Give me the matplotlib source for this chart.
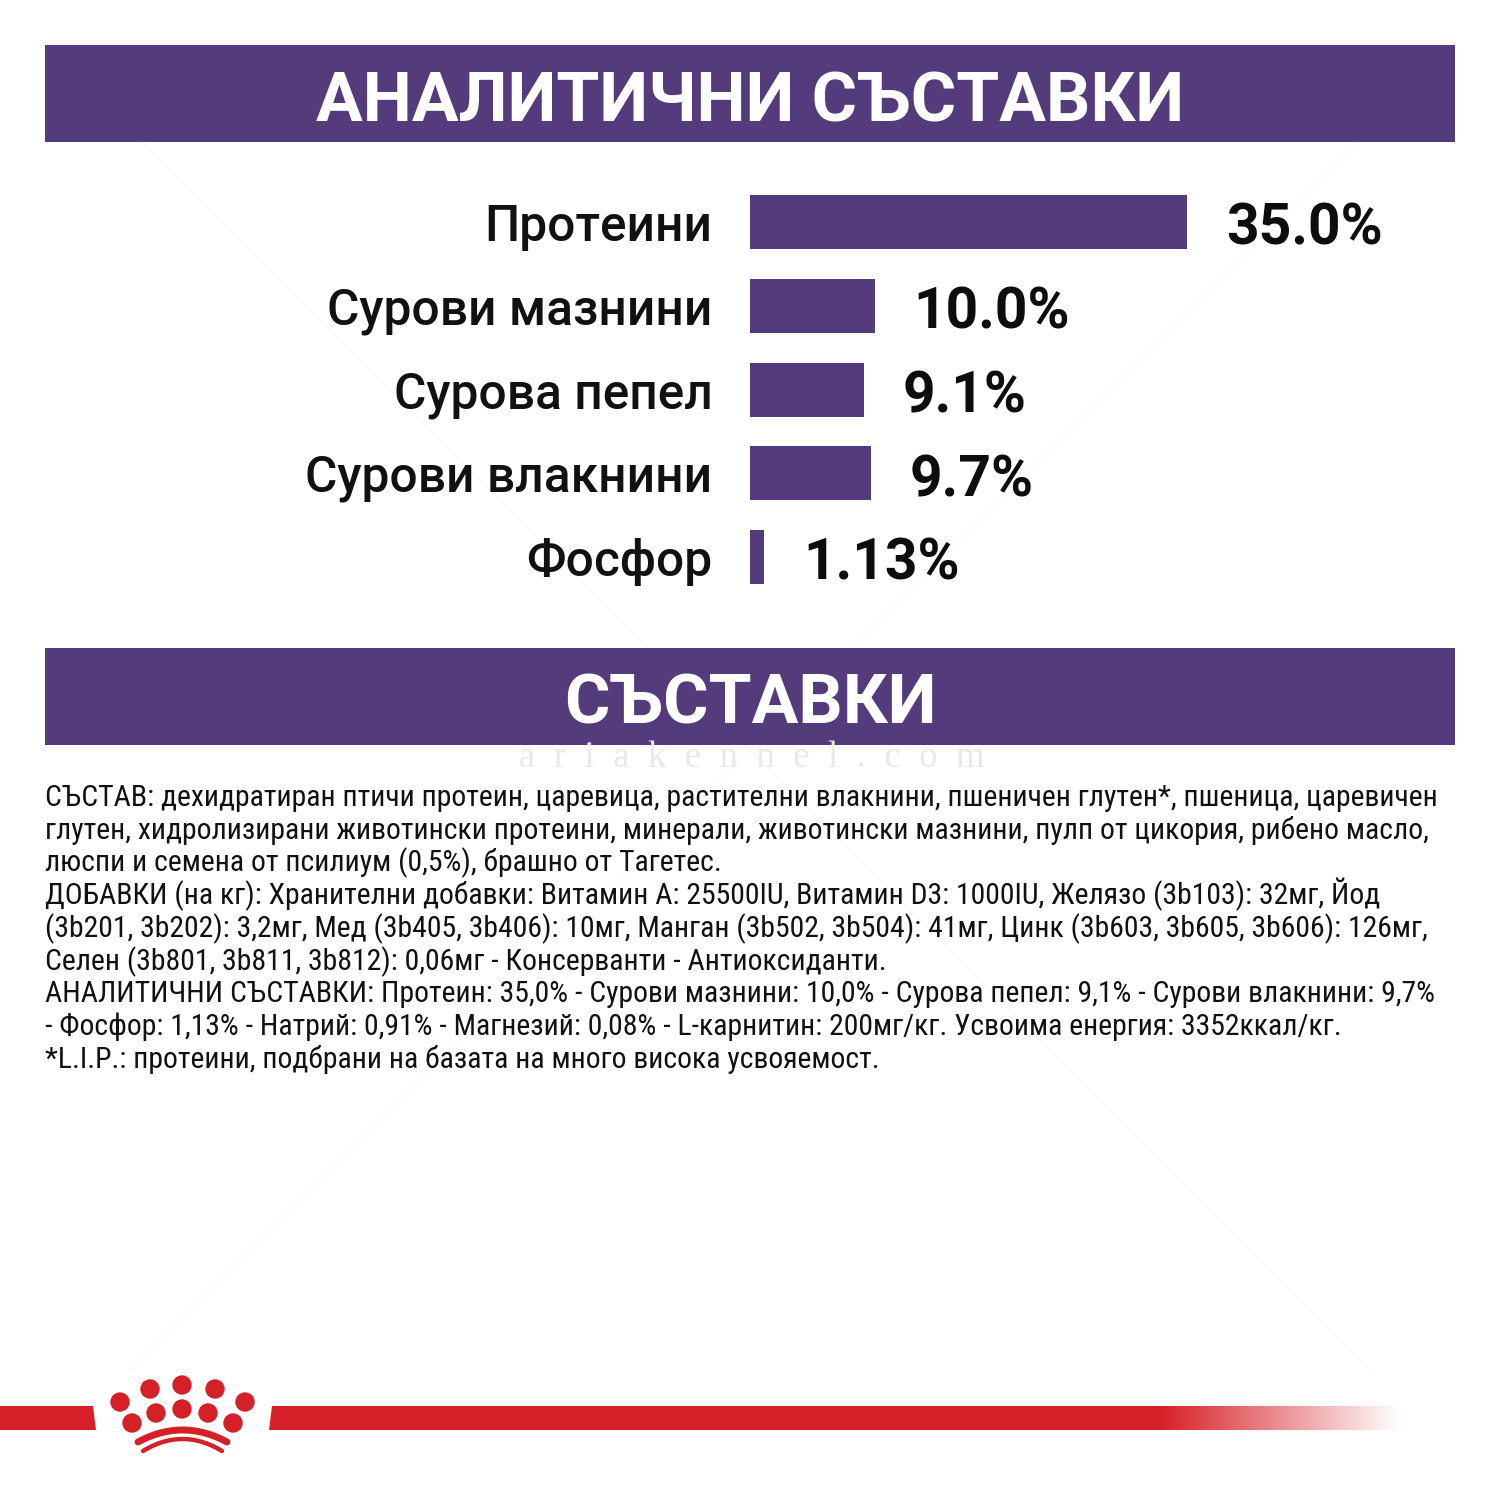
import numpy as np
import matplotlib
matplotlib.use("Agg")
import matplotlib.pyplot as plt
from matplotlib.patches import Rectangle, Circle, Polygon
from matplotlib.colors import LinearSegmentedColormap

categories = ["Протеини", "Сурови мазнини", "Сурова пепел", "Сурови влакнини", "Фосфор"]
values = [35.0, 10.0, 9.1, 9.7, 1.13]
value_labels = ["35.0%", "10.0%", "9.1%", "9.7%", "1.13%"]
title_top = "АНАЛИТИЧНИ СЪСТАВКИ"
title_mid = "СЪСТАВКИ"
body_lines = [
    "СЪСТАВ: дехидратиран птичи протеин, царевица, растителни влакнини, пшеничен глутен*, пшеница, царевичен",
    "глутен, хидролизирани животински протеини, минерали, животински мазнини, пулп от цикория, рибено масло,",
    "люспи и семена от псилиум (0,5%), брашно от Тагетес.",
    "ДОБАВКИ (на кг): Хранителни добавки: Витамин А: 25500IU, Витамин D3: 1000IU, Желязо (3b103): 32мг, Йод",
    "(3b201, 3b202): 3,2мг, Мед (3b405, 3b406): 10мг, Манган (3b502, 3b504): 41мг, Цинк (3b603, 3b605, 3b606): 126мг,",
    "Селен (3b801, 3b811, 3b812): 0,06мг - Консерванти - Антиоксиданти.",
    "АНАЛИТИЧНИ СЪСТАВКИ: Протеин: 35,0% - Сурови мазнини: 10,0% - Сурова пепел: 9,1% - Сурови влакнини: 9,7%",
    "- Фосфор: 1,13% - Натрий: 0,91% - Магнезий: 0,08% - L-карнитин: 200мг/кг. Усвоима енергия: 3352ккал/кг.",
    "*L.I.P.: протеини, подбрани на базата на много висока усвояемост.",
]
watermark = "a  r  i  a  k  e  n  n  e  l  .  c  o  m"

PURPLE = "#533b7c"
RED = "#d62027"
INK = "#111111"
BODY_FONT = ["Roboto Condensed", "Roboto", "DejaVu Sans"]
HEAD_FONT = ["Roboto", "DejaVu Sans"]

fig = plt.figure(figsize=(15, 15), dpi=100, facecolor="white")
bg = fig.add_axes([0, 0, 1, 1])
bg.set_xlim(0, 1500)
bg.set_ylim(1500, 0)
bg.axis("off")

# faint diagonal watermark strokes
for (x0, y0, x1, y1) in [(130, 130, 1370, 1370), (1370, 130, 130, 1370)]:
    bg.plot([x0, x1], [y0, y1], color="#fafafa", lw=1.5, zorder=0)

# header bands
bg.add_patch(Rectangle((45, 45), 1410, 97, color=PURPLE, lw=0))
bg.add_patch(Rectangle((45, 648), 1410, 97, color=PURPLE, lw=0))
bg.text(750, 122, title_top, color="white", fontsize=50, fontweight="bold",
        family=HEAD_FONT, ha="center", va="baseline")
bg.text(750, 724, title_mid, color="white", fontsize=50, fontweight="bold",
        family=HEAD_FONT, ha="center", va="baseline")

# watermark
bg.text(752, 767, watermark, color="#e9e9e9", fontsize=26.5,
        family=["Liberation Serif", "DejaVu Serif"], ha="center", va="baseline")

# body
for i, line in enumerate(body_lines):
    bg.text(45, 806 + i * 32.75, line, color=INK, fontsize=21.4,
            family=BODY_FONT, ha="left", va="baseline")

# footer stripe
bg.add_patch(Polygon([(0, 1406), (93, 1406), (96, 1430), (0, 1430)], color=RED, lw=0))
bg.add_patch(Polygon([(272, 1406), (1160, 1406), (1160, 1430), (269, 1430)], color=RED, lw=0))
cmap = LinearSegmentedColormap.from_list("fade", [RED, "#ffffff"])
bg.imshow(np.linspace(0, 1, 256).reshape(1, -1), extent=(1160, 1400, 1430, 1406),
          cmap=cmap, aspect="auto", zorder=1)
bg.set_xlim(0, 1500)
bg.set_ylim(1500, 0)

# crown
dots = [(120, 1402), (150, 1389), (182, 1385), (215, 1389), (245, 1402),
        (132, 1423), (156, 1413), (182, 1409), (208, 1413), (233, 1423)]
for (cx, cy) in dots:
    bg.add_patch(Circle((cx, cy), 9.7, color=RED, lw=0))
t = np.linspace(0, 1, 60)
bg.plot(138 + t * 89, 1442 - 12 * (1 - (2 * t - 1) ** 2), color=RED, lw=5.0, solid_capstyle="round")
bg.plot(143 + t * 79, 1451 - 12 * (1 - (2 * t - 1) ** 2), color=RED, lw=3.2, solid_capstyle="round")

# bars
px_h = 83.75
ax = fig.add_axes([750 / 1500, 1 - 600 / 1500, 750 / 1500, 420 / 1500])
ax.patch.set_alpha(0)
ax.barh(range(len(values)), values, height=54 / px_h, color=PURPLE, linewidth=0)
ax.set_xlim(0, 750 / 12.49)
ax.set_ylim((600 - 222) / px_h, -(222 - 180) / px_h)
ax.set_yticks(range(len(categories)))
ax.set_yticklabels(categories, fontsize=35.7, fontweight="medium", family=HEAD_FONT, color=INK)
ax.tick_params(axis="y", length=0, pad=27)
ax.set_xticks([])
for s in ax.spines.values():
    s.set_visible(False)
for i, (v, s) in enumerate(zip(values, value_labels)):
    ax.annotate(s, (v, i), xytext=(28, -16.5), textcoords="offset points", va="baseline", ha="left",
                fontsize=41, fontweight="bold", family=HEAD_FONT, color="#0d0d0d")

fig.savefig("out.png", dpi=100)
